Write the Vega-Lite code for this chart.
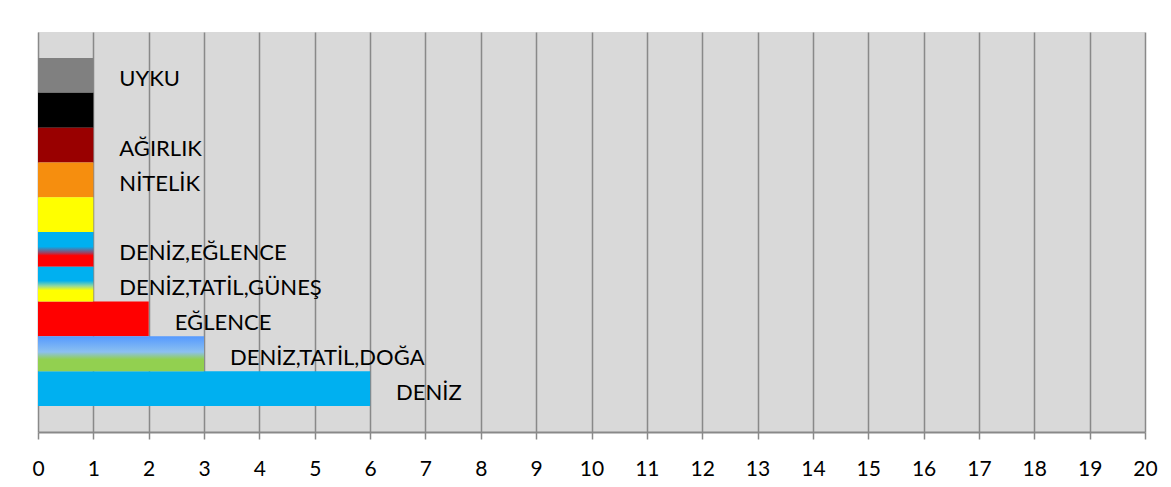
{
  "$schema": "https://vega.github.io/schema/vega-lite/v6.json",
  "width": 1107,
  "height": 400,
  "autosize": {"type": "none"},
  "padding": {"left": 38, "top": 32, "right": 26, "bottom": 55},
  "background": "#FFFFFF",
  "config": {
    "view": {"stroke": null, "fill": "#D9D9D9"},
    "font": "Lato"
  },
  "data": {
    "values": [
      {"id": "UYKU", "etiket": "UYKU", "deger": 1, "tur": "duz"},
      {"id": "SIYAH", "etiket": "", "deger": 1, "tur": "duz"},
      {"id": "AĞIRLIK", "etiket": "AĞIRLIK", "deger": 1, "tur": "duz"},
      {"id": "NİTELİK", "etiket": "NİTELİK", "deger": 1, "tur": "duz"},
      {"id": "SARI", "etiket": "", "deger": 1, "tur": "duz"},
      {"id": "DENİZ,EĞLENCE", "etiket": "DENİZ,EĞLENCE", "deger": 1, "tur": "g1"},
      {"id": "DENİZ,TATİL,GÜNEŞ", "etiket": "DENİZ,TATİL,GÜNEŞ", "deger": 1, "tur": "g2"},
      {"id": "EĞLENCE", "etiket": "EĞLENCE", "deger": 2, "tur": "duz"},
      {"id": "DENİZ,TATİL,DOĞA", "etiket": "DENİZ,TATİL,DOĞA", "deger": 3, "tur": "g3"},
      {"id": "DENİZ", "etiket": "DENİZ", "deger": 6, "tur": "duz"}
    ]
  },
  "encoding": {
    "y": {
      "field": "id",
      "type": "nominal",
      "sort": ["UYKU", "SIYAH", "AĞIRLIK", "NİTELİK", "SARI", "DENİZ,EĞLENCE", "DENİZ,TATİL,GÜNEŞ", "EĞLENCE", "DENİZ,TATİL,DOĞA", "DENİZ"],
      "scale": {
        "domain": ["UYKU", "SIYAH", "AĞIRLIK", "NİTELİK", "SARI", "DENİZ,EĞLENCE", "DENİZ,TATİL,GÜNEŞ", "EĞLENCE", "DENİZ,TATİL,DOĞA", "DENİZ"],
        "paddingInner": 0, "paddingOuter": 0.75
      },
      "axis": null
    },
    "x": {
      "field": "deger",
      "type": "quantitative",
      "scale": {"domain": [0, 20], "nice": false},
      "axis": {
        "values": [0,1,2,3,4,5,6,7,8,9,10,11,12,13,14,15,16,17,18,19,20],
        "title": null,
        "grid": true,
        "gridColor": "#898989",
        "gridWidth": 1.5,
        "gridOpacity": 1,
        "domainColor": "#898989",
        "domainWidth": 2,
        "tickColor": "#898989",
        "tickWidth": 1.5,
        "tickSize": 7,
        "labelPadding": 19,
        "labelFontSize": 21,
        "labelFont": "Lato",
        "labelColor": "#000000",
        "labelFlush": false
      }
    }
  },
  "layer": [
    {
      "transform": [{"filter": "datum.tur === 'duz'"}],
      "mark": {"type": "bar", "cornerRadius": 0},
      "encoding": {
        "color": {
          "field": "id",
          "type": "nominal",
          "legend": null,
          "scale": {
            "domain": ["UYKU", "SIYAH", "AĞIRLIK", "NİTELİK", "SARI", "EĞLENCE", "DENİZ"],
            "range": ["#808080", "#000000", "#990000", "#F68E0E", "#FFFF00", "#FF0000", "#00B0F0"]
          }
        }
      }
    },
    {
      "transform": [{"filter": "datum.tur === 'g1'"}],
      "mark": {
        "type": "bar",
        "color": {
          "gradient": "linear", "x1": 0, "y1": 0, "x2": 0, "y2": 1,
          "stops": [
            {"offset": 0, "color": "#00B0F0"},
            {"offset": 0.42, "color": "#00B0F0"},
            {"offset": 0.6, "color": "#A04060"},
            {"offset": 0.68, "color": "#FF0000"},
            {"offset": 1, "color": "#FF0000"}
          ]
        }
      }
    },
    {
      "transform": [{"filter": "datum.tur === 'g2'"}],
      "mark": {
        "type": "bar",
        "color": {
          "gradient": "linear", "x1": 0, "y1": 0, "x2": 0, "y2": 1,
          "stops": [
            {"offset": 0, "color": "#00B0F0"},
            {"offset": 0.4, "color": "#00B0F0"},
            {"offset": 0.55, "color": "#90D8A0"},
            {"offset": 0.68, "color": "#FFFF00"},
            {"offset": 1, "color": "#FFFF00"}
          ]
        }
      }
    },
    {
      "transform": [{"filter": "datum.tur === 'g3'"}],
      "mark": {
        "type": "bar",
        "color": {
          "gradient": "linear", "x1": 0, "y1": 0, "x2": 0, "y2": 1,
          "stops": [
            {"offset": 0, "color": "#5599FF"},
            {"offset": 0.45, "color": "#8CC0F0"},
            {"offset": 0.66, "color": "#92D050"},
            {"offset": 1, "color": "#92D050"}
          ]
        }
      }
    },
    {
      "mark": {
        "type": "text",
        "align": "left",
        "baseline": "middle",
        "dx": 26,
        "dy": 4,
        "fontSize": 22,
        "font": "Lato",
        "color": "#000000"
      },
      "encoding": {"text": {"field": "etiket"}}
    }
  ]
}
